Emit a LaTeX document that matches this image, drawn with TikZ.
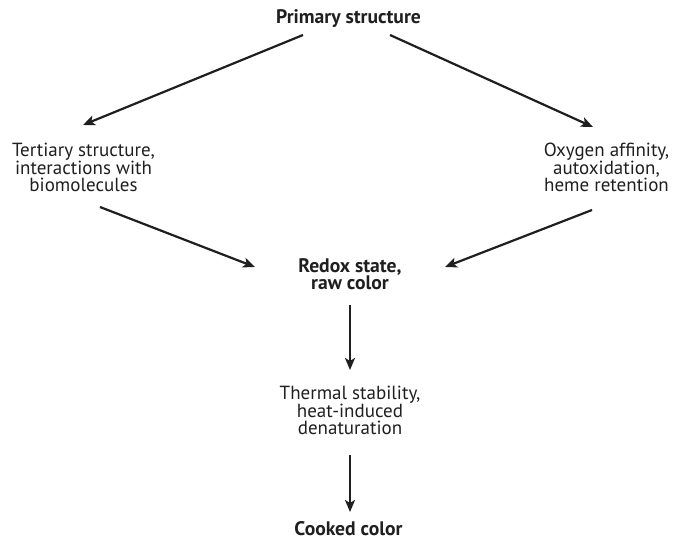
\documentclass[tikz,border=0pt]{standalone}
\usepackage{fontspec}
\setmainfont{PT Sans}
\usetikzlibrary{arrows.meta}
\begin{document}
\begin{tikzpicture}[x=1pt,y=-1pt,
  lbl/.style={align=center,font=\fontsize{19}{17.8}\selectfont,text=black!88,inner sep=0pt,anchor=base},
  blbl/.style={lbl,font=\fontsize{19.6}{17.8}\selectfont\bfseries},
  arr/.style={line width=2.2pt,draw=black!88,-{Stealth[length=12pt,width=10pt,inset=3pt]}}]
\useasboundingbox (0,0) rectangle (673,540);
\node[blbl] (prim) at (348.5,24) {Primary structure};
\node[lbl] (tert) at (83.5,192) {Tertiary structure,\\interactions with\\biomolecules};
\node[lbl] (oxy) at (606.5,192) {Oxygen affinity,\\autoxidation,\\heme retention};
\node[blbl] (redox) at (350,290) {Redox state,\\raw color};
\node[lbl] (therm) at (350,435) {Thermal stability,\\heat-induced\\denaturation};
\node[blbl] (cook) at (348.5,535) {Cooked color};
\coordinate (a1) at (303,35); \coordinate (b1) at (83,125);
\coordinate (a2) at (390,35); \coordinate (b2) at (593,127);
\coordinate (a3) at (100,207); \coordinate (b3) at (255,267);
\coordinate (a4) at (592,210); \coordinate (b4) at (445,267);
\coordinate (a5) at (350,305); \coordinate (b5) at (350,370);
\coordinate (a6) at (350,455); \coordinate (b6) at (350,512);
\draw[arr] (a1) -- (b1);
\draw[arr] (a2) -- (b2);
\draw[arr] (a3) -- (b3);
\draw[arr] (a4) -- (b4);
\draw[arr] (a5) -- (b5);
\draw[arr] (a6) -- (b6);
\end{tikzpicture}
\end{document}
